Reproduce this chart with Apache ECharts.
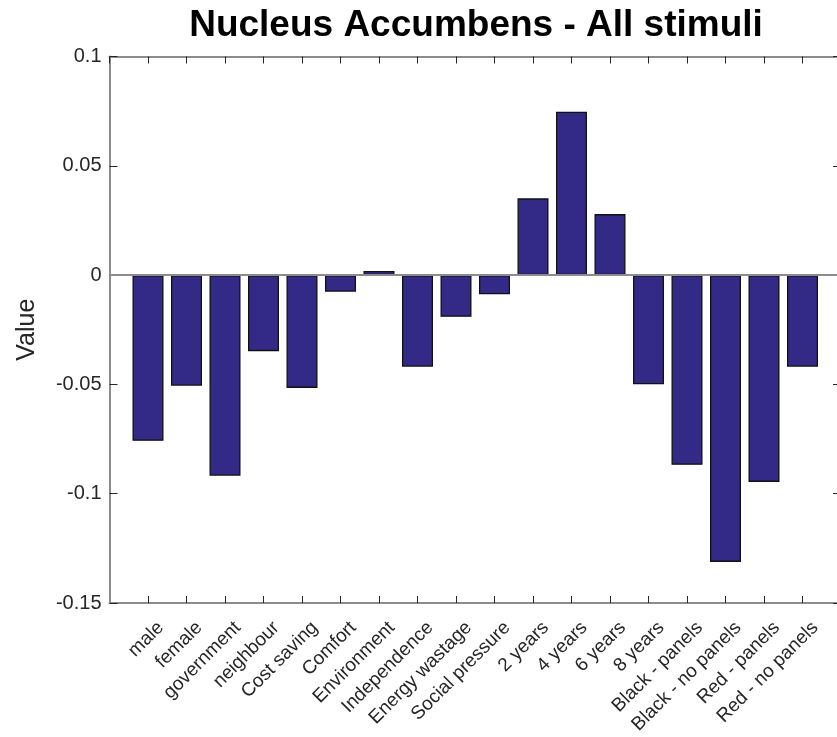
<!DOCTYPE html>
<html>
<head>
<meta charset="utf-8">
<script src="https://cdn.jsdelivr.net/npm/echarts@6/dist/echarts.min.js"></script>
<style>html,body{margin:0;padding:0;background:#fff}#c{width:837px;height:737px}</style>
</head>
<body>
<div id="c"></div>
<script>
var categories = ["male","female","government","neighbour","Cost saving","Comfort","Environment","Independence","Energy wastage","Social pressure","2 years","4 years","6 years","8 years","Black - panels","Black - no panels","Red - panels","Red - no panels"];
var values = [-0.0758,-0.0506,-0.0918,-0.0348,-0.0516,-0.0076,0.0019,-0.0419,-0.0191,-0.0088,0.0351,0.0747,0.0279,-0.0499,-0.0868,-0.1312,-0.0946,-0.0419];
var yTicks = [-0.15,-0.1,-0.05,0,0.05,0.1];

var chart = echarts.init(document.getElementById('c'), null, {renderer:'canvas'});
var font = 'Liberation Sans, Arial, sans-serif';
var lineCol = '#8c8c8c';
var tickCol = '#262626';
var barData = values.map(function(v,i){return [i+1, v];});

function catLabel(v){
  var i = Math.round(v);
  if (i>=1 && i<=categories.length) return categories[i-1];
  return '';
}

chart.setOption({
  animation:false,
  title:{text:'Nucleus Accumbens - All stimuli', left:471, top:2, textAlign:'center',
    textStyle:{fontFamily:font, fontSize:37, fontWeight:'bold', color:'#000'}},
  grid:{left:109.5, width:731.5, top:56.5, bottom:134, containLabel:false, outerBoundsMode:'none'},
  xAxis:[
    {type:'value', position:'bottom', min:0, max:19, interval:1,
     axisLine:{show:true, onZero:false, lineStyle:{color:lineCol, width:2}},
     axisTick:{show:true, inside:true, length:7, lineStyle:{color:tickCol, width:1}},
     axisLabel:{rotate:45, margin:9, align:'right', verticalAlign:'top', lineHeight:36,
       formatter:catLabel, fontFamily:font, fontSize:19, color:tickCol, showMinLabel:false, showMaxLabel:false},
     splitLine:{show:false}},
    {type:'value', position:'top', min:0, max:19, interval:1,
     axisLine:{show:true, onZero:false, lineStyle:{color:lineCol, width:2}},
     axisTick:{show:true, inside:true, length:7, lineStyle:{color:tickCol, width:1}},
     axisLabel:{show:false}, splitLine:{show:false}}
  ],
  yAxis:[
    {type:'value', position:'left', min:yTicks[0], max:yTicks[yTicks.length-1], interval:0.05,
     name:'Value', nameLocation:'middle', nameGap:70, nameRotate:90,
     nameTextStyle:{fontFamily:font, fontSize:25, color:tickCol},
     axisLine:{show:true, onZero:false, lineStyle:{color:lineCol, width:2}},
     axisTick:{show:true, inside:true, length:8, lineStyle:{color:tickCol, width:1}},
     axisLabel:{fontFamily:font, fontSize:20, color:tickCol, margin:8,
       formatter:function(v){return String(Math.round(v*100)/100);}},
     splitLine:{show:false}},
    {type:'value', position:'right', min:yTicks[0], max:yTicks[yTicks.length-1], interval:0.05,
     axisLine:{show:true, onZero:false, lineStyle:{color:lineCol, width:2}},
     axisTick:{show:true, inside:true, length:8, lineStyle:{color:tickCol, width:1}},
     axisLabel:{show:false}, splitLine:{show:false}}
  ],
  series:[{
    type:'bar', xAxisIndex:0, yAxisIndex:0, data:barData, barWidth:31,
    itemStyle:{color:'#332a87', borderColor:'#111', borderWidth:1.3},
    markLine:{silent:true, symbol:'none', label:{show:false},
      lineStyle:{color:'#8c8c8c', width:2, type:'solid'},
      data:[{yAxis:0}]}
  }]
});
</script>
</body>
</html>
